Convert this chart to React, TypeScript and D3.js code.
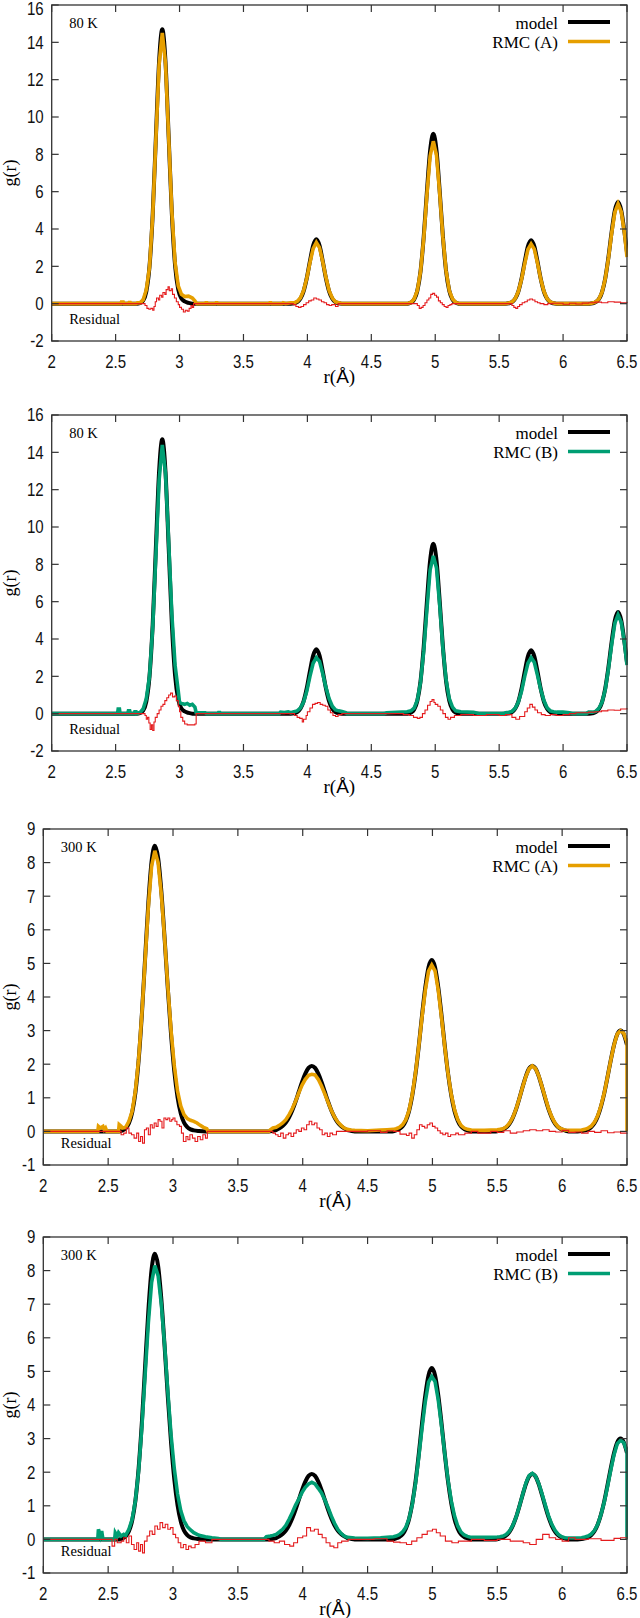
import React from 'react';
import * as d3 from 'd3';

type P = [number, number];

const X_TICKS = [2, 2.5, 3, 3.5, 4, 4.5, 5, 5.5, 6, 6.5];
const X_TICK_LABELS = ['2', '2.5', '3', '3.5', '4', '4.5', '5', '5.5', '6', '6.5'];
const Y_TICKS_80K = [-2, 0, 2, 4, 6, 8, 10, 12, 14, 16];
const Y_TICKS_300K = [-1, 0, 1, 2, 3, 4, 5, 6, 7, 8, 9];

const model80K: P[] = [
  [2.0, 0], [2.665, 0], [2.69, 0.03], [2.715, 0.16], [2.74, 0.65], [2.765, 1.99], [2.79, 4.77], [2.815, 8.92], [2.84, 12.97], [2.865, 14.7], [2.89, 12.97], [2.915, 8.92], [2.94, 4.8], [2.965, 2.05], [2.99, 0.75], [3.015, 0.28], [3.04, 0.12], [3.07, 0.04], [3.1, 0],
  [3.87, 0], [3.895, 0.02], [3.92, 0.08], [3.945, 0.26], [3.97, 0.66], [3.995, 1.36], [4.02, 2.28], [4.045, 3.11], [4.07, 3.45], [4.095, 3.11], [4.12, 2.28], [4.145, 1.36], [4.17, 0.66], [4.195, 0.26], [4.22, 0.08], [4.245, 0.02], [4.27, 0],
  [4.785, 0], [4.81, 0.06], [4.835, 0.22], [4.86, 0.69], [4.885, 1.74], [4.91, 3.59], [4.935, 6.02], [4.96, 8.21], [4.985, 9.1], [5.01, 8.21], [5.035, 6.02], [5.06, 3.59], [5.085, 1.74], [5.11, 0.69], [5.135, 0.22], [5.16, 0.06], [5.185, 0],
  [5.55, 0], [5.575, 0.02], [5.6, 0.08], [5.625, 0.26], [5.65, 0.65], [5.675, 1.34], [5.7, 2.25], [5.725, 3.07], [5.75, 3.4], [5.775, 3.07], [5.8, 2.25], [5.825, 1.34], [5.85, 0.65], [5.875, 0.26], [5.9, 0.08], [5.925, 0.02], [5.95, 0],
  [6.205, 0], [6.23, 0.02], [6.255, 0.08], [6.28, 0.24], [6.305, 0.62], [6.33, 1.36], [6.355, 2.5], [6.38, 3.85], [6.405, 5.0], [6.43, 5.45], [6.455, 5.0], [6.48, 3.85], [6.5, 2.76],
];

const rmcA80K: P[] = [
  [2.0, 0], [2.54, 0], [2.545, 0.08], [2.56, 0.08], [2.565, 0], [2.6, 0], [2.605, 0.06], [2.615, 0.06], [2.62, 0], [2.66, 0], [2.67, 0.05], [2.69, 0.04],
  [2.715, 0.2], [2.74, 0.75], [2.765, 1.95], [2.79, 4.7], [2.815, 8.8], [2.84, 12.8], [2.865, 14.5], [2.89, 12.9], [2.915, 8.9], [2.94, 4.9], [2.965, 2.2], [2.99, 0.95], [3.015, 0.5], [3.04, 0.38], [3.07, 0.4], [3.1, 0.3], [3.12, 0.15], [3.135, 0],
  [3.2, 0], [3.205, 0.05], [3.215, 0.05], [3.22, 0], [3.28, 0], [3.285, 0.04], [3.295, 0.04], [3.3, 0], [3.7, 0], [3.705, 0.04], [3.715, 0.04], [3.72, 0], [3.8, 0], [3.81, 0.05], [3.83, 0], [3.87, 0.05], [3.9, 0.06],
  [3.92, 0.12], [3.945, 0.3], [3.97, 0.7], [3.995, 1.35], [4.02, 2.2], [4.045, 2.95], [4.07, 3.28], [4.095, 3.0], [4.12, 2.25], [4.145, 1.4], [4.17, 0.7], [4.195, 0.3], [4.22, 0.1], [4.245, 0.05], [4.27, 0],
  [4.78, 0], [4.81, 0.06], [4.835, 0.25], [4.86, 0.7], [4.885, 1.72], [4.91, 3.5], [4.935, 5.85], [4.96, 7.9], [4.985, 8.7], [5.01, 7.95], [5.035, 5.9], [5.06, 3.55], [5.085, 1.75], [5.11, 0.7], [5.135, 0.25], [5.16, 0.07], [5.19, 0],
  [5.55, 0], [5.575, 0.03], [5.6, 0.09], [5.625, 0.27], [5.65, 0.65], [5.675, 1.3], [5.7, 2.15], [5.725, 2.9], [5.75, 3.2], [5.775, 2.92], [5.8, 2.17], [5.825, 1.32], [5.85, 0.66], [5.875, 0.27], [5.9, 0.09], [5.925, 0.03], [5.95, 0],
  [6.2, 0], [6.23, 0.03], [6.255, 0.09], [6.28, 0.25], [6.305, 0.62], [6.33, 1.34], [6.355, 2.45], [6.38, 3.78], [6.405, 4.9], [6.43, 5.35], [6.455, 4.92], [6.48, 3.8], [6.5, 2.5],
];

const rmcB80K: P[] = [
  [2.0, 0], [2.515, 0], [2.52, 0.25], [2.53, 0.25], [2.535, 0], [2.595, 0], [2.6, 0.15], [2.61, 0.15], [2.615, 0], [2.645, 0], [2.65, 0.1], [2.66, 0.1], [2.665, 0], [2.69, 0.05],
  [2.715, 0.25], [2.74, 0.8], [2.765, 2.0], [2.79, 4.6], [2.815, 8.5], [2.84, 12.5], [2.865, 14.4], [2.89, 12.9], [2.915, 9.2], [2.94, 5.3], [2.965, 2.6], [2.99, 1.2], [3.0, 0.6], [3.015, 0.55], [3.04, 0.5], [3.06, 0.55], [3.08, 0.45], [3.1, 0.5], [3.12, 0.35], [3.13, 0.05], [3.2, 0.05], [3.21, 0],
  [3.3, 0], [3.305, 0.06], [3.315, 0.06], [3.32, 0], [3.78, 0], [3.79, 0.08], [3.82, 0.06], [3.85, 0.1], [3.87, 0.05],
  [3.895, 0.1], [3.92, 0.15], [3.945, 0.3], [3.97, 0.62], [3.995, 1.2], [4.02, 2.0], [4.045, 2.7], [4.07, 3.0], [4.095, 2.8], [4.12, 2.15], [4.145, 1.4], [4.17, 0.8], [4.195, 0.4], [4.22, 0.2], [4.245, 0.15], [4.27, 0.12], [4.3, 0.05], [4.31, 0],
  [4.6, 0], [4.62, 0.05], [4.7, 0.08], [4.78, 0.1], [4.81, 0.15], [4.835, 0.3], [4.86, 0.72], [4.885, 1.68], [4.91, 3.35], [4.935, 5.6], [4.96, 7.7], [4.985, 8.45], [5.01, 7.8], [5.035, 5.8], [5.06, 3.5], [5.085, 1.8], [5.11, 0.8], [5.135, 0.35], [5.16, 0.15], [5.2, 0.1], [5.3, 0.08], [5.35, 0],
  [5.53, 0], [5.55, 0.05], [5.575, 0.08], [5.6, 0.12], [5.625, 0.28], [5.65, 0.62], [5.675, 1.2], [5.7, 2.0], [5.725, 2.7], [5.75, 3.0], [5.775, 2.75], [5.8, 2.05], [5.825, 1.3], [5.85, 0.7], [5.875, 0.32], [5.9, 0.15], [5.925, 0.1], [5.95, 0.08], [6.0, 0.08], [6.05, 0.05], [6.08, 0],
  [6.18, 0], [6.2, 0.08], [6.23, 0.08], [6.255, 0.12], [6.28, 0.28], [6.305, 0.62], [6.33, 1.3], [6.355, 2.4], [6.38, 3.7], [6.405, 4.85], [6.43, 5.3], [6.455, 4.9], [6.48, 3.8], [6.5, 2.6],
];

const resA80K: P[] = [
  [2.0, 0], [2.72, 0], [2.73, -0.1], [2.745, -0.25], [2.76, -0.3], [2.775, -0.25], [2.79, -0.35], [2.8, -0.15], [2.81, 0.1], [2.82, 0.3], [2.835, 0.2], [2.845, 0.45], [2.86, 0.35], [2.87, 0.6], [2.885, 0.5], [2.895, 0.75], [2.91, 0.9], [2.92, 0.7], [2.935, 0.8], [2.945, 0.5], [2.96, 0.3], [2.975, 0.1], [2.99, -0.05], [3.0, -0.2], [3.015, -0.3], [3.03, -0.45], [3.045, -0.35], [3.06, -0.4], [3.075, -0.25], [3.09, -0.1], [3.1, -0.2], [3.11, 0],
  [3.88, 0], [3.89, -0.05], [3.91, -0.15], [3.93, -0.2], [3.95, -0.15], [3.97, -0.05], [3.99, 0.05], [4.01, 0.15], [4.03, 0.2], [4.05, 0.3], [4.07, 0.25], [4.09, 0.2], [4.11, 0.1], [4.13, 0.05], [4.15, -0.05], [4.17, -0.1], [4.19, -0.05], [4.22, -0.15], [4.24, 0],
  [4.85, 0], [4.86, -0.1], [4.875, -0.25], [4.89, -0.2], [4.905, -0.1], [4.92, 0.05], [4.935, 0.2], [4.95, 0.3], [4.965, 0.5], [4.98, 0.55], [4.995, 0.45], [5.01, 0.35], [5.025, 0.15], [5.04, 0.05], [5.055, -0.05], [5.07, -0.15], [5.085, -0.2], [5.1, -0.1], [5.115, -0.05], [5.13, 0],
  [5.58, 0], [5.6, -0.1], [5.615, -0.2], [5.63, -0.25], [5.645, -0.15], [5.66, -0.05], [5.68, 0.05], [5.7, 0.1], [5.72, 0.2], [5.74, 0.25], [5.76, 0.2], [5.78, 0.1], [5.8, 0.05], [5.82, 0], [5.85, -0.05], [5.88, 0], [5.92, 0.02], [6.0, -0.03], [6.05, 0.02], [6.1, -0.02], [6.15, 0.03], [6.2, 0.05], [6.25, 0.08], [6.3, 0.05], [6.35, 0.1], [6.4, 0.08], [6.45, 0.05], [6.5, 0.1],
];

const resB80K: P[] = [
  [2.0, 0], [2.72, 0], [2.73, -0.1], [2.74, -0.3], [2.75, -0.2], [2.76, -0.5], [2.77, -0.85], [2.78, -0.6], [2.79, -0.9], [2.8, -0.45], [2.81, -0.2], [2.825, 0], [2.84, 0.2], [2.855, 0.4], [2.87, 0.5], [2.885, 0.7], [2.9, 0.85], [2.915, 1.0], [2.93, 1.1], [2.945, 0.9], [2.96, 0.95], [2.975, 0.7], [2.99, 0.4], [3.0, 0.1], [3.01, -0.2], [3.025, -0.4], [3.04, -0.55], [3.06, -0.6], [3.08, -0.6], [3.1, -0.6], [3.12, -0.55], [3.13, 0],
  [3.89, 0], [3.9, -0.1], [3.92, -0.2], [3.94, -0.25], [3.96, -0.45], [3.97, -0.3], [3.99, -0.1], [4.0, 0.1], [4.02, 0.3], [4.04, 0.5], [4.06, 0.55], [4.08, 0.6], [4.1, 0.5], [4.12, 0.45], [4.14, 0.4], [4.16, 0.2], [4.18, 0.05], [4.2, -0.1], [4.22, -0.15], [4.24, -0.05], [4.27, 0],
  [4.7, 0], [4.75, -0.05], [4.8, -0.1], [4.83, -0.2], [4.86, -0.25], [4.88, -0.2], [4.9, 0], [4.92, 0.2], [4.94, 0.45], [4.96, 0.65], [4.975, 0.75], [4.99, 0.6], [5.0, 0.5], [5.02, 0.4], [5.04, 0.2], [5.06, 0], [5.08, -0.2], [5.1, -0.3], [5.12, -0.2], [5.15, -0.1], [5.2, -0.05], [5.3, -0.1], [5.4, -0.05], [5.5, -0.1], [5.55, -0.05],
  [5.6, -0.2], [5.63, -0.3], [5.66, -0.15], [5.7, 0.1], [5.72, 0.3], [5.74, 0.5], [5.76, 0.35], [5.78, 0.2], [5.8, 0.05], [5.83, -0.05], [5.86, -0.1], [5.9, -0.05], [5.95, -0.1], [6.0, -0.05], [6.05, 0], [6.1, 0.05], [6.2, 0.08], [6.25, 0.1], [6.3, 0.15], [6.35, 0.2], [6.4, 0.18], [6.45, 0.25], [6.5, 0.3],
];

const model300K: P[] = [
  [2.0, 0], [2.585, 0], [2.61, 0.03], [2.635, 0.09], [2.66, 0.24], [2.685, 0.56], [2.71, 1.15], [2.735, 2.12], [2.76, 3.49], [2.785, 5.16], [2.81, 6.81], [2.835, 8.04], [2.86, 8.5], [2.885, 8.14], [2.91, 7.15], [2.935, 5.76], [2.96, 4.25], [2.985, 2.88], [3.01, 1.79], [3.035, 1.02], [3.06, 0.53], [3.085, 0.26], [3.11, 0.13], [3.135, 0.06], [3.16, 0.03], [3.2, 0.01], [3.25, 0],
  [3.74, 0], [3.77, 0.02], [3.795, 0.04], [3.82, 0.09], [3.845, 0.16], [3.87, 0.26], [3.895, 0.42], [3.92, 0.63], [3.945, 0.89], [3.97, 1.18], [3.995, 1.47], [4.02, 1.72], [4.045, 1.89], [4.07, 1.95], [4.095, 1.89], [4.12, 1.72], [4.145, 1.47], [4.17, 1.18], [4.195, 0.89], [4.22, 0.63], [4.245, 0.42], [4.27, 0.26], [4.295, 0.16], [4.32, 0.09], [4.345, 0.04], [4.37, 0.02], [4.4, 0],
  [4.69, 0], [4.72, 0.03], [4.745, 0.07], [4.77, 0.15], [4.795, 0.32], [4.82, 0.61], [4.845, 1.08], [4.87, 1.73], [4.895, 2.55], [4.92, 3.46], [4.945, 4.29], [4.97, 4.89], [4.995, 5.1], [5.02, 4.89], [5.045, 4.29], [5.07, 3.46], [5.095, 2.55], [5.12, 1.73], [5.145, 1.08], [5.17, 0.61], [5.195, 0.32], [5.22, 0.15], [5.245, 0.07], [5.27, 0.03], [5.3, 0],
  [5.49, 0], [5.52, 0.03], [5.545, 0.06], [5.57, 0.12], [5.595, 0.23], [5.62, 0.41], [5.645, 0.66], [5.67, 0.98], [5.695, 1.32], [5.72, 1.64], [5.745, 1.87], [5.77, 1.95], [5.795, 1.87], [5.82, 1.64], [5.845, 1.32], [5.87, 0.98], [5.895, 0.66], [5.92, 0.41], [5.945, 0.23], [5.97, 0.12], [5.995, 0.06], [6.02, 0.03], [6.05, 0],
  [6.12, 0], [6.15, 0.01], [6.175, 0.03], [6.2, 0.06], [6.225, 0.13], [6.25, 0.25], [6.275, 0.45], [6.3, 0.75], [6.325, 1.14], [6.35, 1.62], [6.375, 2.12], [6.4, 2.57], [6.425, 2.89], [6.45, 3.0], [6.475, 2.89], [6.5, 2.57],
];

const rmcA300K: P[] = [
  [2.0, 0], [2.42, 0], [2.425, 0.15], [2.44, 0.1], [2.46, 0.15], [2.47, 0.05], [2.48, 0.1], [2.49, 0], [2.58, 0], [2.585, 0.2], [2.6, 0.15], [2.61, 0.1], [2.635, 0.12],
  [2.66, 0.3], [2.685, 0.6], [2.71, 1.2], [2.735, 2.15], [2.76, 3.5], [2.785, 5.1], [2.81, 6.7], [2.835, 7.9], [2.86, 8.35], [2.885, 8.0], [2.91, 7.05], [2.935, 5.75], [2.96, 4.3], [2.985, 3.0], [3.01, 1.95], [3.035, 1.2], [3.06, 0.75], [3.085, 0.5], [3.11, 0.38], [3.135, 0.33], [3.16, 0.3], [3.185, 0.25], [3.21, 0.18], [3.235, 0.12], [3.26, 0.08], [3.27, 0],
  [3.74, 0], [3.75, 0.05], [3.77, 0.1], [3.795, 0.12], [3.82, 0.18], [3.845, 0.25], [3.87, 0.35], [3.895, 0.5], [3.92, 0.68], [3.945, 0.9], [3.97, 1.15], [3.995, 1.38], [4.02, 1.55], [4.045, 1.67], [4.07, 1.7], [4.095, 1.68], [4.12, 1.55], [4.145, 1.35], [4.17, 1.12], [4.195, 0.87], [4.22, 0.63], [4.245, 0.43], [4.27, 0.28], [4.295, 0.18], [4.32, 0.1], [4.345, 0.06], [4.37, 0.04], [4.4, 0.03], [4.5, 0.02], [4.6, 0.04], [4.65, 0.05], [4.7, 0.06],
  [4.72, 0.08], [4.745, 0.12], [4.77, 0.2], [4.795, 0.35], [4.82, 0.63], [4.845, 1.1], [4.87, 1.75], [4.895, 2.55], [4.92, 3.42], [4.945, 4.2], [4.97, 4.77], [4.995, 4.95], [5.02, 4.78], [5.045, 4.2], [5.07, 3.4], [5.095, 2.52], [5.12, 1.72], [5.145, 1.1], [5.17, 0.65], [5.195, 0.35], [5.22, 0.18], [5.245, 0.1], [5.27, 0.06], [5.3, 0.04], [5.4, 0.03], [5.5, 0.05],
  [5.52, 0.06], [5.545, 0.08], [5.57, 0.14], [5.595, 0.25], [5.62, 0.42], [5.645, 0.67], [5.67, 0.98], [5.695, 1.32], [5.72, 1.63], [5.745, 1.86], [5.77, 1.95], [5.795, 1.87], [5.82, 1.65], [5.845, 1.33], [5.87, 1.0], [5.895, 0.68], [5.92, 0.43], [5.945, 0.25], [5.97, 0.13], [5.995, 0.07], [6.02, 0.04], [6.1, 0.03], [6.15, 0.04],
  [6.175, 0.06], [6.2, 0.1], [6.225, 0.16], [6.25, 0.28], [6.275, 0.47], [6.3, 0.77], [6.325, 1.15], [6.35, 1.62], [6.375, 2.12], [6.4, 2.57], [6.425, 2.9], [6.45, 3.0], [6.475, 2.92], [6.5, 2.65], [6.5, 0],
];

const rmcB300K: P[] = [
  [2.0, 0], [2.42, 0], [2.425, 0.3], [2.44, 0.1], [2.45, 0.25], [2.46, 0], [2.55, 0], [2.555, 0.2], [2.57, 0.1], [2.58, 0.2], [2.6, 0.1], [2.62, 0.15], [2.635, 0.12],
  [2.66, 0.3], [2.685, 0.6], [2.71, 1.15], [2.735, 2.05], [2.76, 3.35], [2.785, 4.9], [2.81, 6.45], [2.835, 7.65], [2.86, 8.15], [2.885, 7.85], [2.91, 7.0], [2.935, 5.8], [2.96, 4.4], [2.985, 3.1], [3.01, 2.1], [3.035, 1.35], [3.06, 0.85], [3.085, 0.55], [3.11, 0.38], [3.135, 0.28], [3.16, 0.2], [3.2, 0.12], [3.25, 0.08], [3.3, 0.05], [3.35, 0.03], [3.37, 0],
  [3.7, 0], [3.72, 0.08], [3.75, 0.1], [3.77, 0.12], [3.795, 0.15], [3.82, 0.22], [3.845, 0.3], [3.87, 0.42], [3.895, 0.6], [3.92, 0.8], [3.945, 1.02], [3.97, 1.2], [3.995, 1.4], [4.02, 1.55], [4.045, 1.65], [4.07, 1.7], [4.095, 1.65], [4.12, 1.52], [4.145, 1.38], [4.17, 1.18], [4.195, 0.95], [4.22, 0.7], [4.245, 0.48], [4.27, 0.3], [4.295, 0.18], [4.32, 0.1], [4.345, 0.06], [4.4, 0.04], [4.5, 0.03], [4.6, 0.05], [4.7, 0.08],
  [4.72, 0.1], [4.745, 0.14], [4.77, 0.22], [4.795, 0.36], [4.82, 0.62], [4.845, 1.05], [4.87, 1.68], [4.895, 2.47], [4.92, 3.32], [4.945, 4.1], [4.97, 4.68], [4.995, 4.85], [5.02, 4.7], [5.045, 4.15], [5.07, 3.38], [5.095, 2.55], [5.12, 1.77], [5.145, 1.15], [5.17, 0.7], [5.195, 0.4], [5.22, 0.22], [5.245, 0.13], [5.27, 0.09], [5.3, 0.06], [5.4, 0.06], [5.5, 0.07],
  [5.52, 0.08], [5.545, 0.1], [5.57, 0.15], [5.595, 0.25], [5.62, 0.42], [5.645, 0.66], [5.67, 0.98], [5.695, 1.33], [5.72, 1.67], [5.745, 1.9], [5.77, 1.97], [5.795, 1.88], [5.82, 1.66], [5.845, 1.35], [5.87, 1.02], [5.895, 0.7], [5.92, 0.45], [5.945, 0.27], [5.97, 0.15], [5.995, 0.08], [6.02, 0.05], [6.1, 0.04], [6.15, 0.05],
  [6.175, 0.07], [6.2, 0.1], [6.225, 0.16], [6.25, 0.27], [6.275, 0.45], [6.3, 0.75], [6.325, 1.12], [6.35, 1.58], [6.375, 2.07], [6.4, 2.52], [6.425, 2.85], [6.45, 2.95], [6.475, 2.88], [6.5, 2.62], [6.5, 0],
];

const resA300K: P[] = [
  [2.0, 0], [2.58, 0], [2.6, -0.1], [2.62, -0.05], [2.64, 0.1], [2.66, -0.05], [2.68, -0.1], [2.7, -0.2], [2.72, -0.05], [2.735, -0.3], [2.75, -0.15], [2.765, -0.35], [2.78, 0.05], [2.795, 0.1], [2.81, -0.1], [2.825, 0.2], [2.84, 0.1], [2.855, 0.25], [2.87, 0.15], [2.885, 0.35], [2.9, 0.3], [2.915, 0.1], [2.93, 0.4], [2.945, 0.35], [2.96, 0.4], [2.975, 0.3], [2.99, 0.35], [3.0, 0.4], [3.015, 0.3], [3.03, 0.2], [3.05, 0.15], [3.065, -0.05], [3.08, -0.3], [3.1, -0.15], [3.115, -0.25], [3.13, -0.1], [3.15, -0.2], [3.17, -0.3], [3.19, -0.15], [3.21, -0.25], [3.23, -0.1], [3.25, -0.2], [3.265, 0],
  [3.75, 0], [3.77, -0.05], [3.79, -0.1], [3.81, -0.15], [3.83, -0.05], [3.85, -0.2], [3.87, -0.1], [3.89, -0.05], [3.91, -0.15], [3.93, -0.05], [3.95, 0.05], [3.97, 0], [3.99, 0.1], [4.01, 0.05], [4.03, 0.2], [4.05, 0.3], [4.07, 0.2], [4.09, 0.25], [4.11, 0.1], [4.13, 0.05], [4.15, -0.1], [4.17, -0.05], [4.19, -0.15], [4.21, -0.05], [4.23, -0.1], [4.26, 0],
  [4.4, 0], [4.5, 0.02], [4.6, -0.03], [4.65, 0.02], [4.7, 0], [4.75, -0.08], [4.8, -0.12], [4.82, -0.05], [4.84, -0.2], [4.86, -0.1], [4.88, 0.05], [4.9, 0.2], [4.92, 0.15], [4.94, 0.1], [4.96, 0.2], [4.98, 0.25], [5.0, 0.15], [5.02, 0.1], [5.04, 0.02], [5.06, -0.05], [5.08, -0.1], [5.1, -0.05], [5.12, -0.15], [5.14, -0.1], [5.18, -0.05], [5.2, -0.1], [5.25, -0.05], [5.3, 0], [5.35, -0.05],
  [5.45, 0], [5.5, -0.03], [5.55, 0.02], [5.6, -0.05], [5.65, -0.02], [5.7, 0.02], [5.75, 0.05], [5.8, 0.02], [5.85, 0.05], [5.9, 0], [5.95, -0.02], [6.0, 0.03], [6.05, -0.03], [6.1, -0.02], [6.15, -0.05], [6.2, 0], [6.25, -0.03], [6.3, 0.02], [6.35, -0.04], [6.4, -0.02], [6.45, -0.05], [6.5, -0.03],
];

const resB300K: P[] = [
  [2.0, 0], [2.52, 0], [2.53, -0.2], [2.55, 0], [2.57, -0.1], [2.6, -0.05], [2.62, 0.05], [2.64, -0.1], [2.66, 0.1], [2.68, -0.15], [2.7, -0.3], [2.72, -0.1], [2.735, -0.35], [2.75, -0.15], [2.765, -0.4], [2.78, -0.05], [2.8, 0.1], [2.82, 0.25], [2.84, 0.15], [2.86, 0.4], [2.88, 0.3], [2.9, 0.5], [2.92, 0.35], [2.94, 0.45], [2.96, 0.3], [2.98, 0.35], [3.0, 0.15], [3.02, 0.05], [3.04, -0.1], [3.06, -0.25], [3.08, -0.15], [3.1, -0.3], [3.12, -0.2], [3.14, -0.25], [3.17, -0.15], [3.2, -0.05], [3.25, -0.1], [3.3, 0], [3.35, 0],
  [3.72, 0], [3.74, -0.05], [3.78, -0.1], [3.82, -0.05], [3.86, -0.15], [3.9, -0.2], [3.93, -0.1], [3.96, 0.05], [4.0, 0.1], [4.03, 0.35], [4.06, 0.25], [4.09, 0.3], [4.12, 0.15], [4.15, 0.05], [4.18, -0.1], [4.21, -0.2], [4.24, -0.25], [4.27, -0.1], [4.3, -0.05], [4.35, 0],
  [4.45, 0], [4.55, 0.02], [4.65, -0.05], [4.7, -0.08], [4.75, -0.1], [4.8, -0.15], [4.84, -0.05], [4.88, 0.05], [4.92, 0.15], [4.96, 0.25], [5.0, 0.3], [5.03, 0.2], [5.06, 0.1], [5.1, -0.05], [5.15, -0.1], [5.2, -0.05], [5.3, 0], [5.4, -0.03], [5.5, 0],
  [5.6, -0.05], [5.7, -0.1], [5.75, -0.15], [5.8, 0], [5.85, 0.15], [5.9, 0.05], [5.95, 0], [6.0, -0.05], [6.05, 0.05], [6.1, 0], [6.2, 0.02], [6.3, -0.03], [6.4, 0.03], [6.45, 0.05], [6.5, 0.02],
];

const ORANGE = '#e69f00';
const GREEN = '#009e73';
const RED = '#e41a1c';
const RIGHT = 627;
const PH = 336;
const SERIF = '"Liberation Serif", "Times New Roman", serif';
const SANS = '"Liberation Sans", Arial, sans-serif';

interface PanelProps {
  id: string;
  top: number;
  left: number;
  yTicks: number[];
  model: P[];
  rmc: P[];
  res: P[];
  color: string;
  temp: string;
  rmcLabel: string;
}

function Panel({ id, top, left, yTicks, model, rmc, res, color, temp, rmcLabel }: PanelProps) {
  const x = d3.scaleLinear().domain([2, 6.5]).range([left, RIGHT]);
  const y = d3.scaleLinear().domain([yTicks[0], yTicks[yTicks.length - 1]]).range([top + PH, top]);
  const bottom = top + PH;
  const lineSmooth = d3.line<P>().x(d => x(d[0])).y(d => y(d[1])).curve(d3.curveMonotoneX);
  const lineLin = d3.line<P>().x(d => x(d[0])).y(d => y(d[1]));
  const lineStep = d3.line<P>().x(d => x(d[0])).y(d => y(d[1])).curve(d3.curveStepAfter);
  const TL = 7;
  const cx = (left + RIGHT) / 2;
  return (
    <g>
      <defs>
        <clipPath id={id}>
          <rect x={left} y={top - 1} width={RIGHT - left + 1} height={PH + 2} />
        </clipPath>
      </defs>
      <g clipPath={`url(#${id})`} fill="none">
        <path d={lineSmooth(model) || ''} stroke="#000" strokeWidth={4} />
        <path d={lineLin(rmc) || ''} stroke={color} strokeWidth={3.6} strokeLinejoin="miter" />
        <path d={lineStep(res) || ''} stroke={RED} strokeWidth={1.1} />
      </g>
      <rect x={left} y={top} width={RIGHT - left} height={PH} fill="none" stroke="#333" strokeWidth={1.3} />
      {X_TICKS.map((t, i) => (
        <g key={'x' + t}>
          <line x1={x(t)} x2={x(t)} y1={bottom} y2={bottom - TL} stroke="#333" strokeWidth={1.2} />
          <line x1={x(t)} x2={x(t)} y1={top} y2={top + TL} stroke="#333" strokeWidth={1.2} />
          <text transform={`translate(${x(t)},${bottom + 27}) scale(0.86,1)`} textAnchor="middle" fontFamily={SANS} fontSize={17.5} fill="#111">{X_TICK_LABELS[i]}</text>
        </g>
      ))}
      {yTicks.map(t => (
        <g key={'y' + t}>
          <line x1={left} x2={left + TL} y1={y(t)} y2={y(t)} stroke="#333" strokeWidth={1.2} />
          <line x1={RIGHT} x2={RIGHT - TL} y1={y(t)} y2={y(t)} stroke="#333" strokeWidth={1.2} />
          <text transform={`translate(${left - 8},${Math.max(y(t) + 6.3, 15)}) scale(0.86,1)`} textAnchor="end" fontFamily={SANS} fontSize={17.5} fill="#111">{t}</text>
        </g>
      ))}
      <text transform={`translate(16,${top + PH / 2}) rotate(-90)`} textAnchor="middle" fontFamily={SERIF} fontSize={18}>g(r)</text>
      <text x={cx} y={bottom + 42} textAnchor="middle" fontSize={19}>
        <tspan fontFamily={SERIF}>r(</tspan><tspan fontFamily={SANS}>Å</tspan><tspan fontFamily={SERIF}>)</tspan>
      </text>
      <text x={left + 17.5} y={top + 23} fontFamily={SERIF} fontSize={14.5}>{temp}</text>
      <text x={left + 17.5} y={top + 319} fontFamily={SERIF} fontSize={14.5}>Residual</text>
      <text x={558} y={top + 23.5} textAnchor="end" fontFamily={SERIF} fontSize={17}>model</text>
      <line x1={568} x2={610} y1={top + 17} y2={top + 17} stroke="#000" strokeWidth={4} />
      <text x={558} y={top + 43} textAnchor="end" fontFamily={SERIF} fontSize={17}>{rmcLabel}</text>
      <line x1={568} x2={610} y1={top + 36.5} y2={top + 36.5} stroke={color} strokeWidth={3.6} />
    </g>
  );
}

export default function App() {
  return (
    <svg width={640} height={1618} viewBox="0 0 640 1618" style={{ position: 'absolute', left: 0, top: 0, background: '#fff' }}>
      <rect x={0} y={0} width={640} height={1618} fill="#fff" />
      <Panel id="c1" top={5} left={51.7} yTicks={Y_TICKS_80K} model={model80K} rmc={rmcA80K} res={resA80K} color={ORANGE} temp="80 K" rmcLabel="RMC (A)" />
      <Panel id="c2" top={415} left={51.7} yTicks={Y_TICKS_80K} model={model80K} rmc={rmcB80K} res={resB80K} color={GREEN} temp="80 K" rmcLabel="RMC (B)" />
      <Panel id="c3" top={829} left={43.3} yTicks={Y_TICKS_300K} model={model300K} rmc={rmcA300K} res={resA300K} color={ORANGE} temp="300 K" rmcLabel="RMC (A)" />
      <Panel id="c4" top={1237} left={43.3} yTicks={Y_TICKS_300K} model={model300K} rmc={rmcB300K} res={resB300K} color={GREEN} temp="300 K" rmcLabel="RMC (B)" />
    </svg>
  );
}
